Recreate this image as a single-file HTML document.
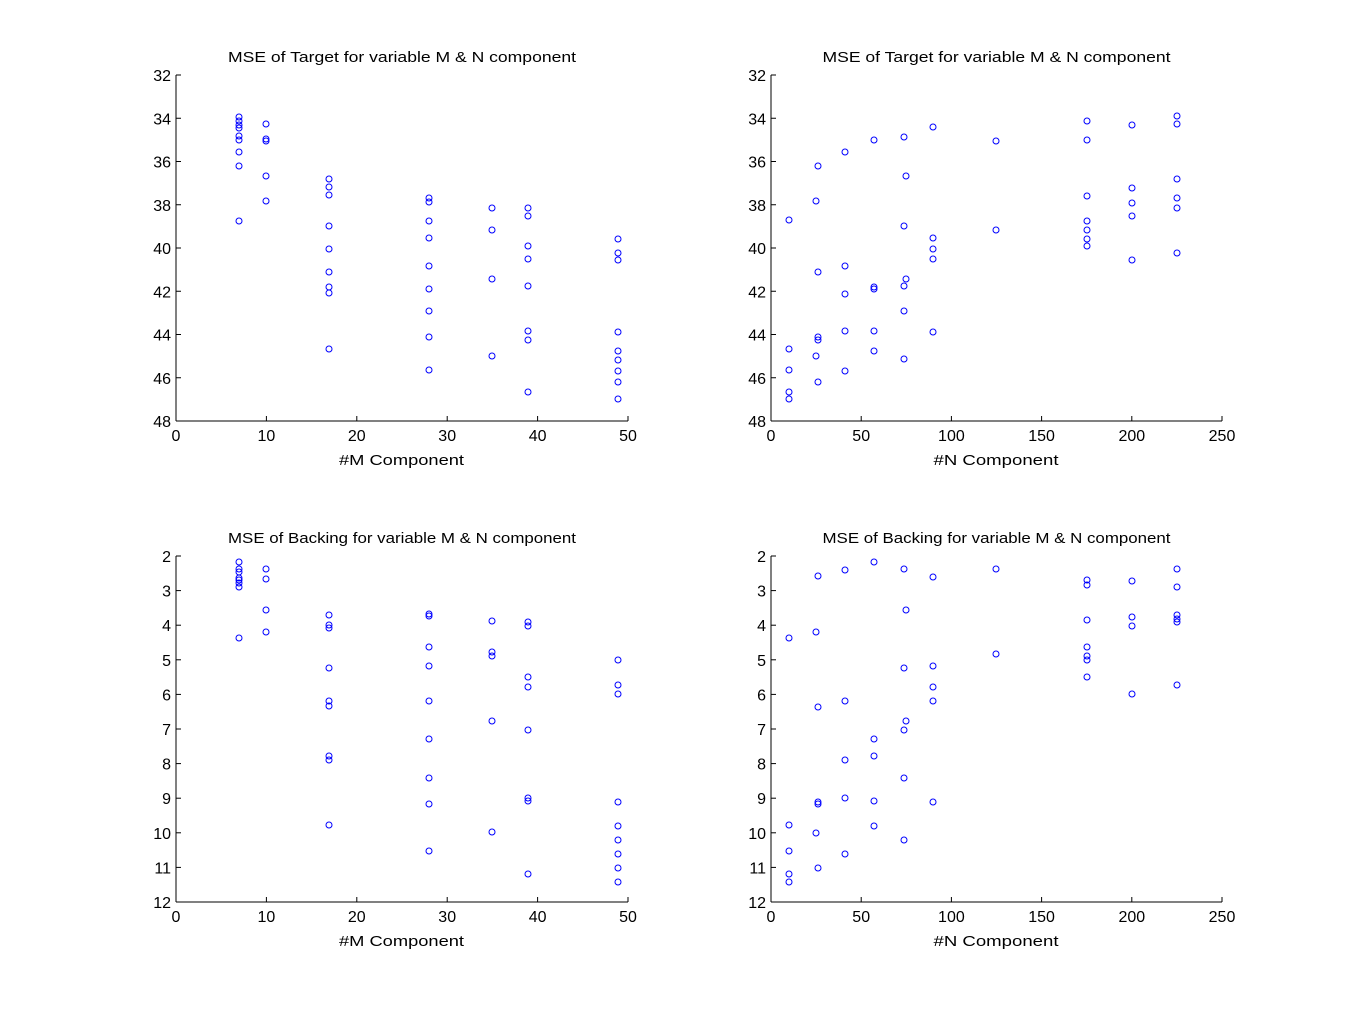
<!DOCTYPE html>
<html><head><meta charset="utf-8"><style>
html,body{margin:0;padding:0;background:#fff;}
svg text{font-family:"Liberation Sans",Arial,sans-serif;font-size:16px;fill:#000;}
svg text.t{font-size:15px;}
</style></head><body>
<svg id="s" width="1351" height="1015" xmlns="http://www.w3.org/2000/svg"></svg>
<script>
const s=document.getElementById('s');let h='';
function ax(x0,x1,y0,y1,xt,yt,title,xl){
  h+=`<line x1="${x0}" y1="${y0}" x2="${x0}" y2="${y1}" stroke="#000"/>`;
  h+=`<line x1="${x0}" y1="${y1}" x2="${x1}" y2="${y1}" stroke="#000"/>`;
  xt.forEach((v,i)=>{const x=x0+(x1-x0)*i/(xt.length-1);
    h+=`<line x1="${x}" y1="${y1}" x2="${x}" y2="${y1-5}" stroke="#000"/>`;
    h+=`<text x="${x}" y="${y1+20}" text-anchor="middle">${v}</text>`;});
  yt.forEach((v,i)=>{const y=y0+(y1-y0)*i/(yt.length-1);
    h+=`<line x1="${x0}" y1="${y}" x2="${x0+5}" y2="${y}" stroke="#000"/>`;
    h+=`<text x="${x0-5}" y="${y+6}" text-anchor="end">${v}</text>`;});
  const cx=(x0+x1)/2;
  h+=`<text class="t" x="${cx-174}" y="${y0-13}" textLength="348" lengthAdjust="spacingAndGlyphs">${title}</text>`;
  h+=`<text class="t" x="${cx-63}" y="${y1+44}" textLength="125" lengthAdjust="spacingAndGlyphs">${xl}</text>`;
}
function pts(d){for(const x in d)d[x].forEach(y=>{h+=`<circle cx="${x}" cy="${y}" r="3" fill="none" stroke="#0000ff" stroke-width="1"/>`;});}
ax(176,628,75,421,[0,10,20,30,40,50],[32,34,36,38,40,42,44,46,48],"MSE of Target for variable M &amp; N component","#M Component");
ax(771,1222,75,421,[0,50,100,150,200,250],[32,34,36,38,40,42,44,46,48],"MSE of Target for variable M &amp; N component","#N Component");
ax(176,628,556,902,[0,10,20,30,40,50],[2,3,4,5,6,7,8,9,10,11,12],"MSE of Backing for variable M &amp; N component","#M Component");
ax(771,1222,556,902,[0,50,100,150,200,250],[2,3,4,5,6,7,8,9,10,11,12],"MSE of Backing for variable M &amp; N component","#N Component");
pts({239:[117,121,125,128,136,140,152,166,221],266:[124,139,141,176,201],329:[179,187,195,226,249,272,287,293,349],429:[198,202,221,238,266,289,311,337,370],492:[208,230,279,356],528:[208,216,246,259,286,331,340,392],618:[239,253,260,332,351,360,371,382,399]});
pts({789:[220,349,370,392,399],816:[201,356],818:[166,272,337,340,382],845:[152,266,294,331,371],874:[140,287,289,331,351],904:[137,226,286,311,359],906:[176,279],933:[127,238,249,259,332],996:[141,230],1087:[121,140,196,221,230,239,246],1132:[125,188,203,216,260],1177:[116,124,179,198,208,253]});
pts({239:[562,569,572,578,580,583,587,638],266:[569,579,610,632],329:[615,625,628,668,701,706,756,760,825],429:[614,616,647,666,701,739,778,804,851],492:[621,652,656,721,832],528:[622,626,677,687,730,798,801,874],618:[660,685,694,802,826,840,854,868,882]});
pts({789:[638,825,851,874,882],816:[632,833],818:[576,707,802,804,868],845:[570,701,760,798,854],874:[562,739,756,801,826],904:[569,668,730,778,840],906:[610,721],933:[577,666,687,701,802],996:[569,654],1087:[580,585,620,647,656,660,677],1132:[581,617,626,694],1177:[569,587,615,619,622,685]});
s.innerHTML=h;
</script>
</body></html>
